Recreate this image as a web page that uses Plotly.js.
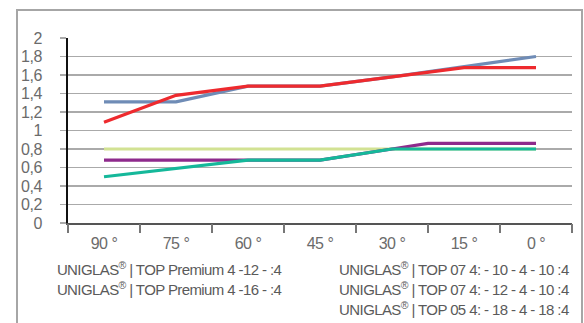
<!DOCTYPE html>
<html><head><meta charset="utf-8">
<script src="https://cdn.plot.ly/plotly-3.0.1.min.js"></script>
<style>html,body{margin:0;padding:0;background:#fff}#c{width:584px;height:323px}
#c .annotation-text{letter-spacing:-0.6px}
#c .xtick text,#c .ytick text{letter-spacing:-0.5px}
</style>
</head><body><div id="c"></div>
<script>
const categories = ["90 °","75 °","60 °","45 °","30 °","15 °","0 °"];
const catPos = [0,1,2,3,4,5,6];
const seriesNames = [
  "UNIGLAS® | TOP Premium 4 -12 - :4",
  "UNIGLAS® | TOP Premium 4 -16 - :4",
  "UNIGLAS® | TOP 07 4: - 10 - 4 - 10 :4",
  "UNIGLAS® | TOP 07 4: - 12 - 4 - 10 :4",
  "UNIGLAS® | TOP 05 4: - 18 - 4 - 18 :4"
];
const blueVals   = [1.31,1.31,1.48,1.48,1.58,1.69,1.80];
const redVals    = [1.09,1.38,1.48,1.48,1.58,1.68,1.68];
const greenVals  = [0.80,0.80,0.80,0.80,0.80,0.80,0.80];
const purplePos  = [0,1,2,3,4,4.5,5,6];
const purpleVals = [0.68,0.68,0.68,0.68,0.80,0.86,0.86,0.86];
const tealVals   = [0.50,0.59,0.68,0.68,0.80,0.80,0.80];
const yTicks = [0,0.2,0.4,0.6,0.8,1,1.2,1.4,1.6,1.8,2];

const lw = 3.2;
const traces = [
  {x:catPos, y:blueVals, name:seriesNames[0], line:{color:"#6f8cb6", width:lw}},
  {x:catPos, y:redVals, name:seriesNames[1], line:{color:"#ee2a2e", width:lw}},
  {x:catPos, y:greenVals, name:seriesNames[4], line:{color:"#d2e293", width:lw}},
  {x:purplePos, y:purpleVals, name:seriesNames[2], line:{color:"#8e2a8c", width:lw}},
  {x:catPos, y:tealVals, name:seriesNames[3], line:{color:"#15b89a", width:lw}},
  {x:[-0.5,6.5], y:[0,0], xaxis:"x2", mode:"lines", line:{width:0}, hoverinfo:"skip", showlegend:false}
].map(t => Object.assign({type:"scatter", mode:"lines", showlegend:false}, t));

const fontFam = "'Liberation Sans Narrow', 'Liberation Sans', Roboto, sans-serif";
const legFont = {family:fontFam, size:15, color:"#5a5a5a"};
function legText(s){ return s.replace("®","<sup>®</sup>"); }
const annotations = [
  {text:legText(seriesNames[0]), x:45, y:268},
  {text:legText(seriesNames[1]), x:45, y:288},
  {text:legText(seriesNames[2]), x:326, y:268},
  {text:legText(seriesNames[3]), x:326, y:288},
  {text:legText(seriesNames[4]), x:326, y:308}
].map(a => ({
  text:a.text, xref:"paper", yref:"paper",
  x:(a.x-68)/504, y:(223-a.y)/185, xanchor:"left", yanchor:"middle",
  showarrow:false, font:legFont
}));

const layout = {
  width:584, height:323,
  margin:{l:68, r:12, t:38, b:100},
  paper_bgcolor:"#fff", plot_bgcolor:"#fff",
  separators:",.",
  showlegend:false,
  font:{family:fontFam, color:"#6b6b6b"},
  xaxis:{
    range:[-0.5,6.5], tickvals:catPos, ticktext:categories,
    ticks:"", showgrid:false, zeroline:false,
    showline:true, linecolor:"#555", linewidth:2,
    tickfont:{family:fontFam, size:16, color:"#6b6b6b"},
    ticklabelstandoff:5, fixedrange:true
  },
  xaxis2:{
    overlaying:"x", side:"bottom", range:[-0.5,6.5],
    tickvals:[-0.5,0.5,1.5,2.5,3.5,4.5,5.5,6.5],
    ticks:"outside", ticklen:9, tickcolor:"#777", tickwidth:1.5,
    showticklabels:false, showgrid:false, zeroline:false, showline:false
  },
  yaxis:{
    range:[0,2], tickvals:yTicks,
    ticks:"outside", ticklen:6, tickcolor:"#aaa", tickwidth:1.5,
    showgrid:true, gridcolor:"#aaaaaa", gridwidth:1.5,
    zeroline:false, showline:true, linecolor:"#111", linewidth:2,
    tickfont:{family:fontFam, size:16, color:"#6b6b6b"},
    ticklabelstandoff:15, fixedrange:true
  },
  shapes:[{
    type:"rect", xref:"paper", yref:"paper",
    x0:(17-68)/504, x1:(582-68)/504, y0:-2, y1:(223-10)/185,
    line:{color:"#a6a6a6", width:2}, layer:"below"
  }],
  annotations:annotations
};
Plotly.newPlot("c", traces, layout, {displayModeBar:false, staticPlot:true});
</script></body></html>
